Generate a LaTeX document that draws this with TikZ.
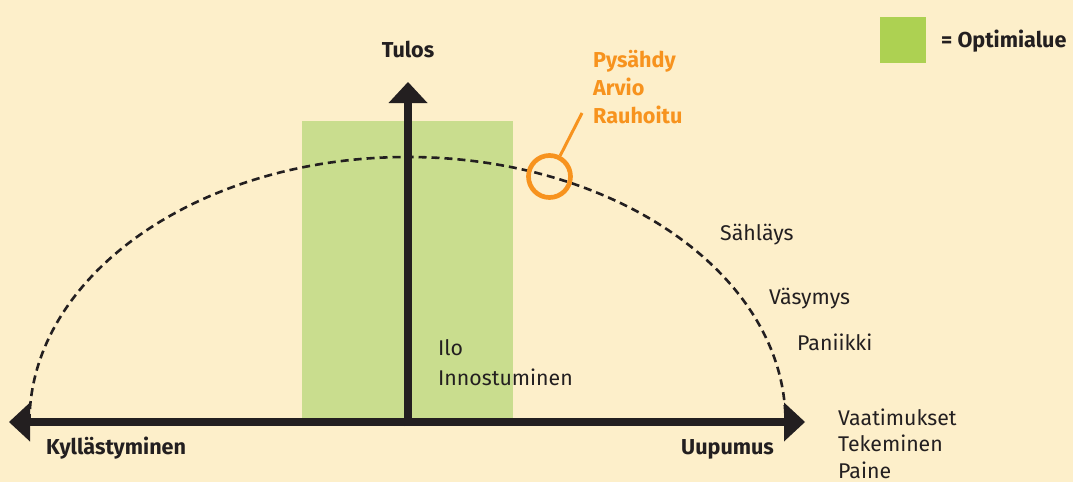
\documentclass[tikz,border=0pt]{standalone}
\usepackage{fontspec}
\setmainfont{Fira Sans}
\usetikzlibrary{arrows.meta}
\definecolor{bg}{HTML}{FDEFCA}
\definecolor{optgreen}{HTML}{C9DD8E}
\definecolor{leggreen}{HTML}{ADD152}
\definecolor{accent}{HTML}{F7931E}
\definecolor{ink}{HTML}{231F20}
\begin{document}
\begin{tikzpicture}[x=1pt,y=-1pt,
  >={Triangle[length=21pt,width=39pt,line width=0pt]},
  axis/.style={draw=ink, line width=8pt},
  curve/.style={draw=ink, line width=2.6pt, dash pattern=on 8pt off 5pt},
  lbl/.style={anchor=base west, inner sep=0pt, text=ink, align=left,
    font=\fontsize{21.3}{26.3}\selectfont},
  blbl/.style={anchor=base west, inner sep=0pt, text=ink, align=left,
    font=\fontsize{21.6}{28}\selectfont\bfseries},
  olbl/.style={blbl, text=accent}]
\fill[bg] (0,0) rectangle (1073,482);
\useasboundingbox (0,0) rectangle (1073,482);
% optimum area
\fill[optgreen] (302,121) rectangle (513,422);
% dashed performance curve
\draw[curve] (29.5,422) arc[start angle=180, end angle=360, x radius=378, y radius=265];
% axes
\coordinate (L) at (9,422);
\coordinate (R) at (805,422);
\coordinate (O) at (408,426);
\coordinate (T) at (408,82);
\draw[axis, <->] (L) -- (R);
\draw[axis, ->] (O) -- (T);
% highlight circle and callout
\node[circle, draw=accent, line width=4.7pt, minimum size=42pt, inner sep=0pt] (hot) at (549.5,176.5) {};
\coordinate (callout) at (582,113);
\draw[accent, line width=3pt] (hot) -- (callout);
% legend
\node[fill=leggreen, minimum width=46pt, minimum height=46pt, inner sep=0pt, anchor=north west] (legbox) at (880,17) {};
\node[blbl] (legtext) at (941,47) {= Optimialue};
% labels
\node[blbl, anchor=base] (tulos) at (408,57) {Tulos};
\node[olbl] (stop) at (593,123) {Pysähdy\\Arvio\\Rauhoitu};
\node[lbl] (sahl) at (720,240) {Sähläys};
\node[lbl] (vasy) at (769,304) {Väsymys};
\node[lbl] (pani) at (797,350) {Paniikki};
\node[lbl] (vaat) at (838,478) {Vaatimukset\\Tekeminen\\Paine};
\node[blbl] (kyll) at (46,454) {Kyllästyminen};
\node[blbl] (uupu) at (681,454) {Uupumus};
\node[lbl, font=\fontsize{21.3}{30}\selectfont] (ilo) at (438,385) {Ilo\\Innostuminen};
\end{tikzpicture}
\end{document}
